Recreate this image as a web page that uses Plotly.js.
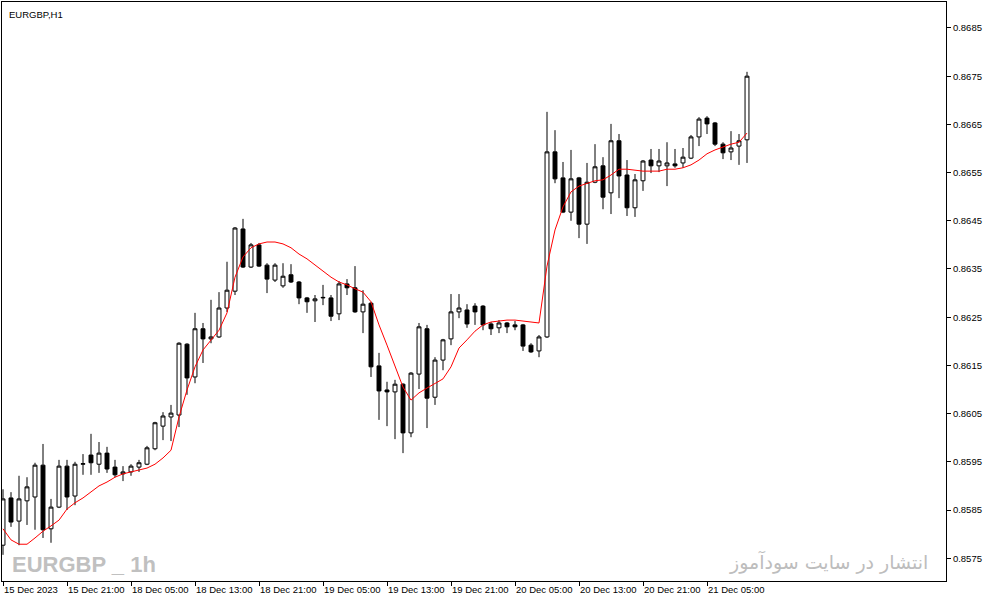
<!DOCTYPE html>
<html>
<head>
<meta charset="utf-8">
<script src="https://cdn.plot.ly/plotly-3.0.1.min.js"></script>
<style>
    html, body { margin: 0; padding: 0; background: #ffffff; }
    #chart { width: 987px; height: 605px; }
</style>
</head>
<body>
<div id="chart"></div>
<script>
'use strict';

// EURGBP H1 bars, one per hour (15 Dec 13:00 .. 21 Dec 06:00)
var barOpen = [
    0.85777, 0.85875, 0.85827, 0.85869, 0.85877, 0.85943, 0.85811, 0.85856, 0.85941, 0.85879,
    0.85945, 0.85964, 0.85945, 0.85968, 0.85939, 0.85925, 0.85929, 0.85939, 0.85945, 0.85977,
    0.86024, 0.86043, 0.86047, 0.86194, 0.86126, 0.86226, 0.86205, 0.86209, 0.86269, 0.86304,
    0.86433, 0.86354, 0.86400, 0.86358, 0.86327, 0.86315, 0.86338, 0.86323, 0.86290, 0.86284,
    0.86290, 0.86290, 0.86257, 0.86319, 0.86311, 0.86261, 0.86279, 0.86149, 0.86099, 0.86095,
    0.86111, 0.86010, 0.86132, 0.86226, 0.86084, 0.86161, 0.86205, 0.86261, 0.86265, 0.86273,
    0.86273, 0.86236, 0.86228, 0.86238, 0.86234, 0.86234, 0.86192, 0.86180, 0.86209, 0.86593,
    0.86539, 0.86468, 0.86539, 0.86443, 0.86530, 0.86564, 0.86508, 0.86616, 0.86545, 0.86477,
    0.86533, 0.86576, 0.86564, 0.86564, 0.86568, 0.86570, 0.86580, 0.86624, 0.86663, 0.86653,
    0.86609, 0.86593, 0.86605, 0.86618
];
var barHigh = [
    0.85893, 0.85887, 0.85921, 0.85918, 0.85948, 0.85987, 0.85873, 0.85954, 0.85954, 0.85950,
    0.85966, 0.86008, 0.85991, 0.85981, 0.85954, 0.85941, 0.85945, 0.85954, 0.85983, 0.86033,
    0.86053, 0.86068, 0.86198, 0.86196, 0.86259, 0.86238, 0.86286, 0.86302, 0.86365, 0.86437,
    0.86454, 0.86404, 0.86404, 0.86362, 0.86362, 0.86362, 0.86360, 0.86325, 0.86292, 0.86296,
    0.86317, 0.86296, 0.86325, 0.86329, 0.86356, 0.86306, 0.86282, 0.86176, 0.86116, 0.86120,
    0.86113, 0.86136, 0.86238, 0.86234, 0.86167, 0.86205, 0.86298, 0.86298, 0.86277, 0.86279,
    0.86275, 0.86240, 0.86244, 0.86240, 0.86242, 0.86236, 0.86196, 0.86213, 0.86676, 0.86638,
    0.86572, 0.86597, 0.86541, 0.86570, 0.86609, 0.86582, 0.86651, 0.86630, 0.86576, 0.86547,
    0.86576, 0.86599, 0.86599, 0.86613, 0.86599, 0.86601, 0.86628, 0.86665, 0.86667, 0.86655,
    0.86613, 0.86636, 0.86630, 0.86759
];
var barLow = [
    0.85757, 0.85815, 0.85777, 0.85819, 0.85809, 0.85792, 0.85782, 0.85854, 0.85850, 0.85860,
    0.85923, 0.85923, 0.85927, 0.85927, 0.85918, 0.85910, 0.85921, 0.85929, 0.85943, 0.85974,
    0.85995, 0.85993, 0.86022, 0.86089, 0.86113, 0.86155, 0.86196, 0.86207, 0.86261, 0.86296,
    0.86352, 0.86352, 0.86354, 0.86300, 0.86323, 0.86311, 0.86321, 0.86277, 0.86259, 0.86240,
    0.86275, 0.86242, 0.86244, 0.86296, 0.86259, 0.86217, 0.86126, 0.86037, 0.86024, 0.85997,
    0.85968, 0.86001, 0.86101, 0.86020, 0.86068, 0.86140, 0.86192, 0.86248, 0.86228, 0.86234,
    0.86223, 0.86213, 0.86217, 0.86217, 0.86223, 0.86180, 0.86176, 0.86167, 0.86207, 0.86528,
    0.86466, 0.86450, 0.86414, 0.86402, 0.86528, 0.86474, 0.86464, 0.86497, 0.86460, 0.86458,
    0.86512, 0.86549, 0.86551, 0.86522, 0.86560, 0.86560, 0.86578, 0.86605, 0.86630, 0.86605,
    0.86578, 0.86576, 0.86566, 0.86570
];
var barClose = [
    0.85873, 0.85825, 0.85873, 0.85898, 0.85943, 0.85809, 0.85856, 0.85941, 0.85877, 0.85945,
    0.85946, 0.85948, 0.85968, 0.85935, 0.85923, 0.85929, 0.85941, 0.85948, 0.85979, 0.86031,
    0.86045, 0.86051, 0.86196, 0.86124, 0.86226, 0.86205, 0.86209, 0.86269, 0.86306, 0.86435,
    0.86354, 0.86400, 0.86356, 0.86329, 0.86358, 0.86335, 0.86323, 0.86290, 0.86282, 0.86288,
    0.86291, 0.86252, 0.86319, 0.86311, 0.86261, 0.86277, 0.86147, 0.86097, 0.86095, 0.86111,
    0.86010, 0.86134, 0.86230, 0.86082, 0.86161, 0.86203, 0.86261, 0.86269, 0.86236, 0.86261,
    0.86234, 0.86226, 0.86238, 0.86230, 0.86230, 0.86190, 0.86178, 0.86209, 0.86593, 0.86537,
    0.86468, 0.86537, 0.86443, 0.86530, 0.86562, 0.86499, 0.86616, 0.86543, 0.86477, 0.86535,
    0.86574, 0.86564, 0.86574, 0.86570, 0.86564, 0.86582, 0.86624, 0.86661, 0.86651, 0.86609,
    0.86591, 0.86601, 0.86616, 0.86750
];
// red smoothed average line
var maLine = [
    0.85811, 0.85788, 0.85779, 0.85779, 0.85792, 0.85806, 0.85817, 0.85829, 0.85852, 0.85865,
    0.85875, 0.85887, 0.85900, 0.85908, 0.85918, 0.85925, 0.85929, 0.85933, 0.85937, 0.85945,
    0.85958, 0.85974, 0.86043, 0.86099, 0.86147, 0.86182, 0.86203, 0.86223, 0.86259, 0.86333,
    0.86375, 0.86394, 0.86402, 0.86406, 0.86406, 0.86402, 0.86394, 0.86381, 0.86371, 0.86358,
    0.86346, 0.86333, 0.86323, 0.86317, 0.86309, 0.86302, 0.86282, 0.86234, 0.86192, 0.86147,
    0.86105, 0.86078, 0.86093, 0.86103, 0.86113, 0.86122, 0.86147, 0.86186, 0.86203, 0.86221,
    0.86234, 0.86240, 0.86242, 0.86244, 0.86244, 0.86242, 0.86240, 0.86238, 0.86356, 0.86431,
    0.86479, 0.86510, 0.86522, 0.86528, 0.86533, 0.86535, 0.86545, 0.86557, 0.86557, 0.86555,
    0.86553, 0.86553, 0.86553, 0.86557, 0.86557, 0.86560, 0.86566, 0.86576, 0.86589, 0.86597,
    0.86603, 0.86609, 0.86613, 0.86632
];

// time labels, one every 8 bars
var timeLabels = [
    '15 Dec 2023', '15 Dec 21:00', '18 Dec 05:00', '18 Dec 13:00', '18 Dec 21:00', '19 Dec 05:00',
    '19 Dec 13:00', '19 Dec 21:00', '20 Dec 05:00', '20 Dec 13:00', '20 Dec 21:00', '21 Dec 05:00'
];
var priceTicks = [0.8575, 0.8585, 0.8595, 0.8605, 0.8615, 0.8625, 0.8635, 0.8645, 0.8655, 0.8665, 0.8675, 0.8685];

function draw(node) {

    var barIndex = [];
    for (var i = 0; i < barClose.length; ++i) {
        barIndex.push(i);
    }
    var timeVals = [];
    for (var k = 0; k < timeLabels.length; ++k) {
        timeVals.push(k * 8);
    }

    var traces = [{
            type: 'candlestick',
            x: barIndex,
            open: barOpen,
            high: barHigh,
            low: barLow,
            close: barClose,
            whiskerwidth: 0,
            increasing: { line: { color: '#000000', width: 1 }, fillcolor: '#ffffff' },
            decreasing: { line: { color: '#000000', width: 1 }, fillcolor: '#000000' },
            showlegend: false,
            hoverinfo: 'none'
        },
        {
            type: 'scatter',
            mode: 'lines',
            x: barIndex,
            y: maLine,
            line: { color: '#ff0000', width: 1 },
            showlegend: false,
            hoverinfo: 'none'
        }
    ];

    var axisFont = { family: 'Liberation Sans, Arial, sans-serif', size: 9.5, color: '#000000' };

    Plotly.newPlot(node, traces, {
        width: 987,
        height: 605,
        paper_bgcolor: '#ffffff',
        plot_bgcolor: '#ffffff',
        margin: { t: 2, b: 24, l: 2, r: 41 },
        boxgap: 0.3,
        xaxis: {
            range: [-0.125, 117.875],
            tickvals: timeVals,
            ticktext: timeLabels,
            tickangle: 0,
            ticks: 'outside',
            ticklen: 4,
            tickcolor: '#000000',
            ticklabelposition: 'outside right',
            tickfont: axisFont,
            showgrid: false,
            zeroline: false,
            showline: true,
            mirror: true,
            linecolor: '#000000',
            linewidth: 1,
            rangeslider: { visible: false },
            fixedrange: true
        },
        yaxis: {
            side: 'right',
            range: [0.857027, 0.869039],
            tickvals: priceTicks,
            tickformat: '.4f',
            ticks: 'outside',
            ticklen: 4,
            tickcolor: '#000000',
            tickfont: axisFont,
            showgrid: false,
            zeroline: false,
            showline: true,
            mirror: true,
            linecolor: '#000000',
            linewidth: 1,
            fixedrange: true
        },
        annotations: [
            {
                text: 'EURGBP,H1',
                xref: 'paper', yref: 'paper', x: 0, y: 1,
                xanchor: 'left', yanchor: 'top', xshift: 5, yshift: -5,
                showarrow: false,
                font: { family: 'Liberation Sans, Arial, sans-serif', size: 9.5, color: '#000000' }
            },
            {
                text: 'EURGBP _ 1h',
                xref: 'paper', yref: 'paper', x: 0.0085, y: 0.028,
                xanchor: 'left', yanchor: 'middle',
                showarrow: false,
                font: { family: 'Liberation Sans, Arial, sans-serif', size: 22, color: '#c0c0c0', weight: 'bold' }
            },
            {
                text: 'انتشار در سایت سودآموز',
                xref: 'paper', yref: 'paper', x: 0.983, y: 0.033,
                xanchor: 'right', yanchor: 'middle',
                showarrow: false,
                font: { family: 'DejaVu Sans, Noto Sans, sans-serif', size: 19, color: '#bdbdbd' }
            }
        ]
    }, { displayModeBar: false, staticPlot: true });
}

draw(document.getElementById('chart'));
</script>
</body>
</html>
